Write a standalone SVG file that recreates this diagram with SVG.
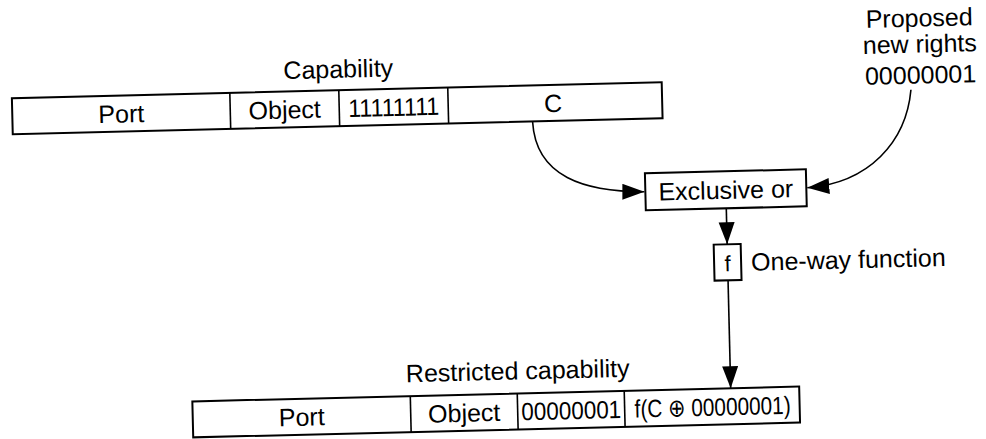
<svg xmlns="http://www.w3.org/2000/svg" width="986" height="439" viewBox="0 0 986 439">
<style>
  text { font-family: "Liberation Sans", "DejaVu Sans", Arial, sans-serif; font-size: 25px; fill: #000; }
  .c { text-anchor: middle; }
  .box { fill: #fff; stroke: #000; stroke-width: 2; }
  .div { stroke: #000; stroke-width: 1.6; }
  .con { fill: none; stroke: #000; stroke-width: 1.6; }
</style>
<defs>
  <marker id="ah" markerUnits="userSpaceOnUse" markerWidth="24" markerHeight="18" refX="22" refY="8" orient="auto">
    <path d="M0,0 L22,8 L0,16 Z" fill="#000"/>
  </marker>
</defs>
<rect width="986" height="439" fill="#fff"/>
<g transform="rotate(-1.4 493 220)">
  <g id="capability">
    <text class="c" x="342" y="74">Capability</text>
    <rect class="box" x="15" y="86.5" width="650" height="36"/>
    <line class="div" x1="233" y1="86.5" x2="233" y2="122.5"/>
    <line class="div" x1="342" y1="86.5" x2="342" y2="122.5"/>
    <line class="div" x1="451" y1="86.5" x2="451" y2="122.5"/>
    <text class="c" x="124" y="113.5">Port</text>
    <text class="c" x="287.5" y="113.5">Object</text>
    <text class="c" x="396.5" y="113.5" textLength="91" lengthAdjust="spacingAndGlyphs">11111111</text>
    <text class="c" x="556" y="113.5">C</text>
  </g>
  <g id="proposed">
    <text class="c" x="924" y="37">Proposed</text>
    <text class="c" x="924" y="63">new rights</text>
    <text class="c" x="924" y="94">00000001</text>
  </g>
  <g id="xor">
    <rect class="box" x="646" y="177" width="161" height="37"/>
    <text class="c" x="726.5" y="204.5">Exclusive or</text>
  </g>
  <g id="oneway">
    <rect class="box" x="713" y="250" width="27" height="36"/>
    <text class="c" x="726.5" y="277" style="font-size:22px">f</text>
    <text x="750" y="277">One-way function</text>
  </g>
  <g id="restricted">
    <text class="c" x="514" y="380">Restricted capability</text>
    <rect class="box" x="188" y="394" width="607" height="36"/>
    <line class="div" x1="406" y1="394" x2="406" y2="430"/>
    <line class="div" x1="513" y1="394" x2="513" y2="430"/>
    <line class="div" x1="620" y1="394" x2="620" y2="430"/>
    <text class="c" x="297" y="421">Port</text>
    <text class="c" x="459.5" y="421">Object</text>
    <text class="c" x="566.5" y="421" textLength="100" lengthAdjust="spacingAndGlyphs">00000001</text>
    <text class="c" x="708" y="421" textLength="156" lengthAdjust="spacingAndGlyphs">f(C ⊕ 00000001)</text>
  </g>
  <g id="connectors">
    <path class="con" d="M535,123 C537,178 585,194 645,195.5" marker-end="url(#ah)"/>
    <path class="con" d="M914,100 C908,152 870,192 808,195.5" marker-end="url(#ah)"/>
    <path class="con" d="M726.5,214 L726.5,250" marker-end="url(#ah)"/>
    <path class="con" d="M726.5,286 L726.5,394" marker-end="url(#ah)"/>
  </g>
</g>
</svg>
